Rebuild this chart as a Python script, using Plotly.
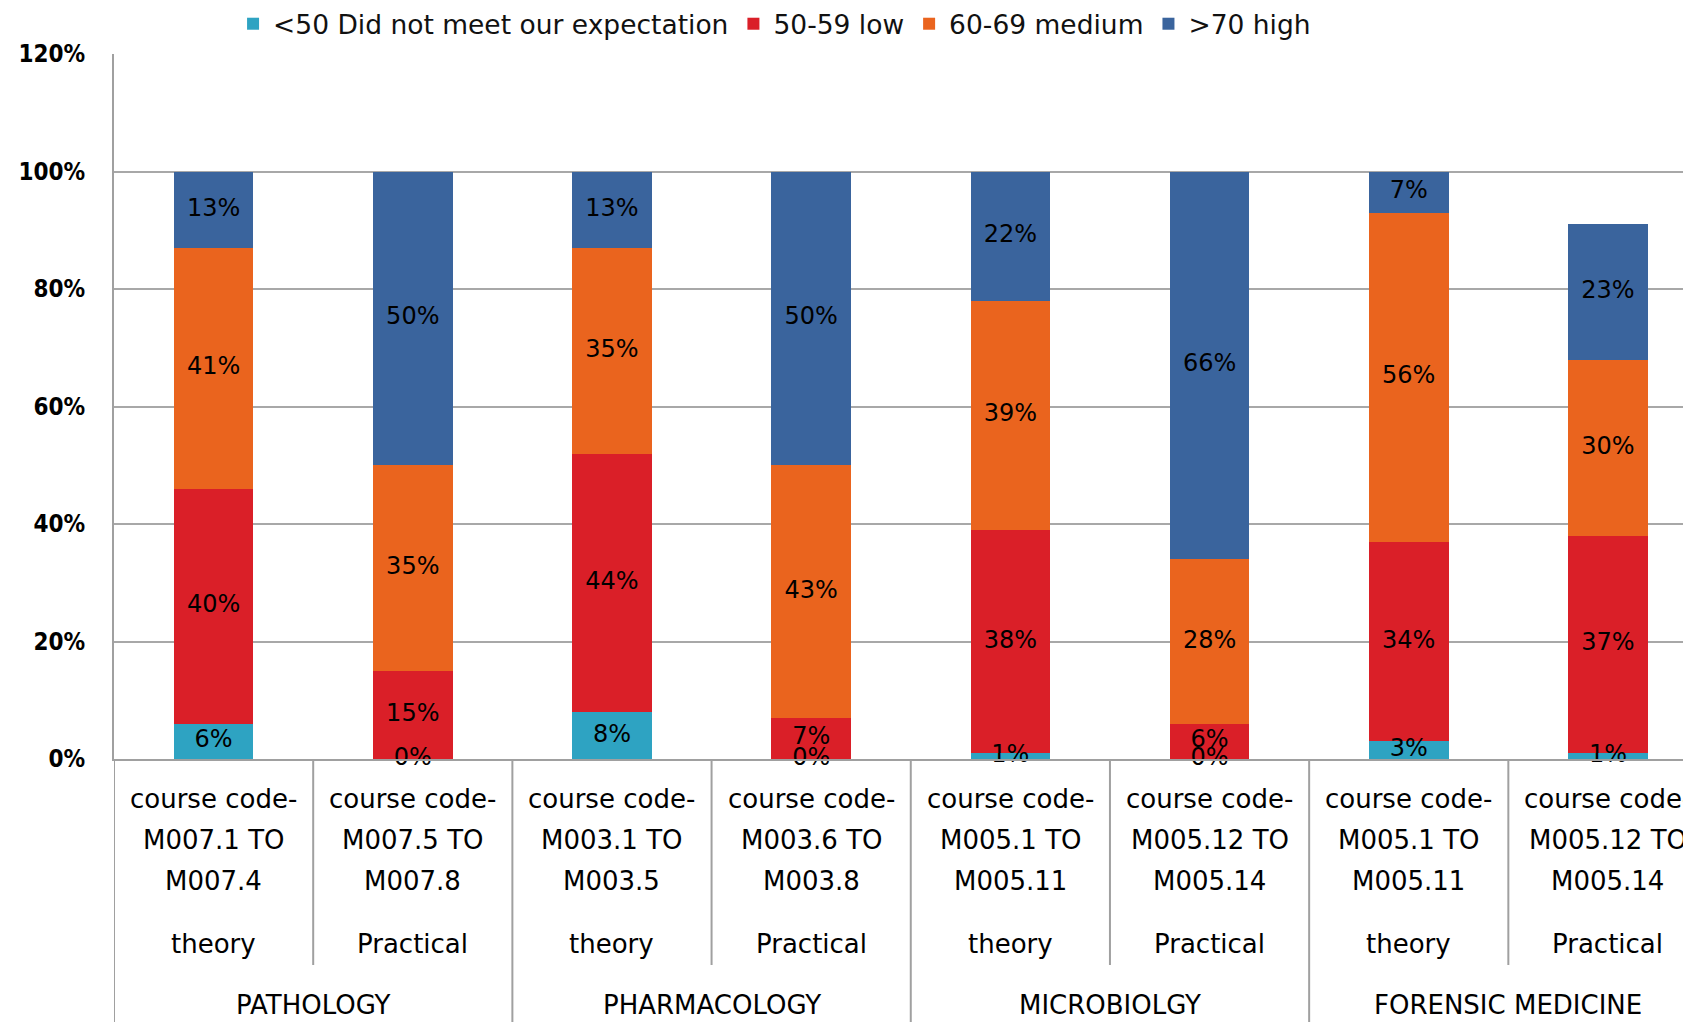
import plotly.graph_objects as go

groups = ["PATHOLOGY", "PATHOLOGY", "PHARMACOLOGY", "PHARMACOLOGY",
          "MICROBIOLGY", "MICROBIOLGY", "FORENSIC MEDICINE", "FORENSIC MEDICINE"]
codes_top = ["course code-"] * 8
codes_mid = ["M007.1 TO", "M007.5 TO", "M003.1 TO", "M003.6 TO",
             "M005.1 TO", "M005.12 TO", "M005.1 TO", "M005.12 TO"]
codes_bot = ["M007.4", "M007.8", "M003.5", "M003.8",
             "M005.11", "M005.14", "M005.11", "M005.14"]
kinds = ["theory", "Practical"] * 4

series_names = ["<50 Did not meet our expectation", "50-59 low", "60-69 medium", ">70 high"]
below50 = [6, 0, 8, 0, 1, 0, 3, 1]
low = [40, 15, 44, 7, 38, 6, 34, 37]
medium = [41, 35, 35, 43, 39, 28, 56, 30]
high = [13, 50, 13, 50, 22, 66, 7, 23]
colors = ["#2EA3C2", "#DA1F28", "#EA641E", "#3A649D"]

ytick_vals = [0, 20, 40, 60, 80, 100, 120]
ytick_text = ["0%", "20%", "40%", "60%", "80%", "100%", "120%"]

FONT = "DejaVu Sans"
cats = [f"{g} {m} {b} {k}" for g, m, b, k in zip(groups, codes_mid, codes_bot, kinds)]

fig = go.Figure()
series = [below50, low, medium, high]
base = [0] * len(cats)
for name, vals, col in zip(series_names, series, colors):
    fig.add_trace(go.Bar(x=cats, y=vals, name=name, marker=dict(color=col, line=dict(width=0)),
                         width=0.4, hoverinfo="skip"))
    mids = [b + v / 2 for b, v in zip(base, vals)]
    fig.add_trace(go.Scatter(x=cats, y=mids, mode="text", text=[f"{v}%" for v in vals],
                             textfont=dict(family=FONT, size=24, color="#000000"),
                             showlegend=False, cliponaxis=False, hoverinfo="skip"))
    base = [b + v for b, v in zip(base, vals)]

# category labels
line_offsets = [(codes_top, -40), (codes_mid, -81), (codes_bot, -122), (kinds, -185)]
for texts, off in line_offsets:
    for c, t in zip(cats, texts):
        fig.add_annotation(x=c, y=0, xref="x", yref="paper", text=t, showarrow=False,
                           yshift=off, yanchor="middle", xanchor="center",
                           font=dict(family=FONT, size=26, color="#000000"))

# group labels
seen = []
for i, g in enumerate(groups):
    if g in seen:
        continue
    seen.append(g)
    idx = [j for j, gg in enumerate(groups) if gg == g]
    fig.add_annotation(x=(idx[0] + idx[-1]) / 2, y=0, xref="x", yref="paper", text=g,
                       showarrow=False, yshift=-246, yanchor="middle", xanchor="center",
                       font=dict(family=FONT, size=26, color="#000000"))

# dividers
for i in range(len(cats) + 1):
    full = (i == 0) or (i < len(cats) and groups[i] != groups[i - 1]) or i == len(cats)
    length = 270 if full else 206
    fig.add_shape(type="line", xref="x", yref="paper", x0=i - 0.5, x1=i - 0.5,
                  ysizemode="pixel", yanchor=0, y0=0, y1=-length, layer="below",
                  line=dict(color="#A0A0A0", width=2))

fig.update_layout(
    width=1683, height=1014,
    margin=dict(l=106, r=0, t=46, b=263, autoexpand=False),
    barmode="stack",
    paper_bgcolor="white", plot_bgcolor="white",
    showlegend=True,
    legend=dict(orientation="h", x=0.0755, xanchor="left",
                yref="container", y=1 - 16 / 1014, yanchor="middle",
                traceorder="normal", font=dict(family=FONT, size=26.5, color="#111111"),
                bgcolor="rgba(0,0,0,0)"),
    font=dict(family=FONT),
)
fig.update_xaxes(type="category", range=[-0.5, 7.417], showticklabels=False,
                 showgrid=False, showline=True, linecolor="#A0A0A0", linewidth=2,
                 ticks="", zeroline=False)
fig.update_yaxes(range=[0, 120], tickvals=ytick_vals, ticktext=ytick_text,
                 showgrid=True, gridcolor="#A8A8A8", gridwidth=2,
                 showline=True, linecolor="#A0A0A0", linewidth=2, zeroline=False,
                 ticks="", ticklabelstandoff=22,
                 tickfont=dict(family="DejaVu Sans Condensed, DejaVu Sans", size=24,
                               weight="bold", color="#000000"))

fig.write_html("out.html")
